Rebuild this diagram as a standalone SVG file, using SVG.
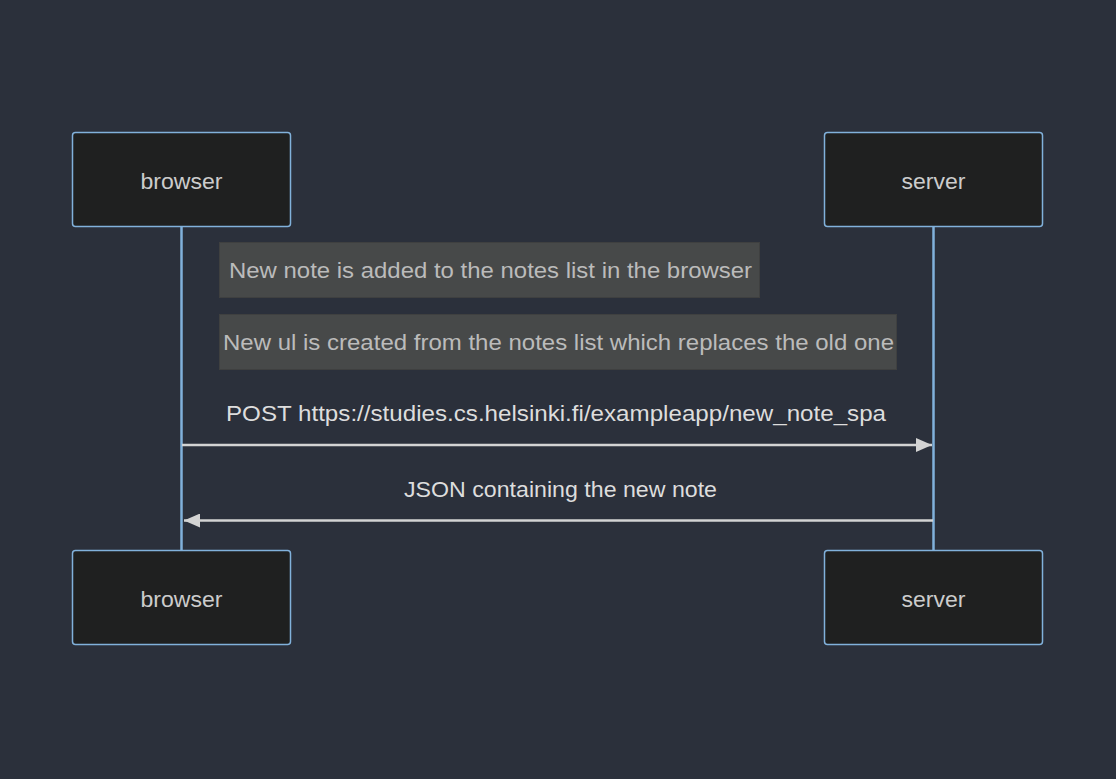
<svg xmlns="http://www.w3.org/2000/svg" width="1116" height="779" viewBox="0 0 1116 779">
<style>
.actor rect{fill:#1f2020;stroke:#81b1db;stroke-width:1.5}
.actor text{fill:#cccccc;font-family:"Liberation Sans",Arial,sans-serif;font-size:22px;text-anchor:middle}
.lifeline{stroke:#81b1db;stroke-width:2.5}
.note rect{fill:#474949;stroke:#3f4040;stroke-width:1}
.note text{fill:#bbbbbb;font-family:"Liberation Sans",Arial,sans-serif;font-size:22px;text-anchor:middle}
.msg{stroke:#d3d3d3;stroke-width:2.5;fill:none}
.msgtext{fill:#dddddd;font-family:"Liberation Sans",Arial,sans-serif;font-size:22px;text-anchor:middle}
</style>
<defs>
<marker id="arrow" markerWidth="16" markerHeight="14" refX="16" refY="7" orient="auto" markerUnits="userSpaceOnUse">
<path d="M0,0 L16,7 L0,14 Z" fill="#d3d3d3"/>
</marker>
</defs>
<rect width="1116" height="779" fill="#2b303b"/>
<g id="lifelines">
<line class="lifeline" x1="181.5" y1="227" x2="181.5" y2="550"/>
<line class="lifeline" x1="933.5" y1="227" x2="933.5" y2="550"/>
</g>
<g id="browser-top" class="actor">
<rect x="72.5" y="132.5" width="218" height="94" rx="3"/>
<text x="181.5" y="189" textLength="82" lengthAdjust="spacingAndGlyphs">browser</text>
</g>
<g id="server-top" class="actor">
<rect x="824.5" y="132.5" width="218" height="94" rx="3"/>
<text x="933.5" y="189" textLength="64" lengthAdjust="spacingAndGlyphs">server</text>
</g>
<g id="browser-bottom" class="actor">
<rect x="72.5" y="550.5" width="218" height="94" rx="3"/>
<text x="181.5" y="607" textLength="82" lengthAdjust="spacingAndGlyphs">browser</text>
</g>
<g id="server-bottom" class="actor">
<rect x="824.5" y="550.5" width="218" height="94" rx="3"/>
<text x="933.5" y="607" textLength="64" lengthAdjust="spacingAndGlyphs">server</text>
</g>
<g id="note1" class="note">
<rect x="219.5" y="242.5" width="540" height="55"/>
<text x="490.5" y="278" textLength="523" lengthAdjust="spacingAndGlyphs">New note is added to the notes list in the browser</text>
</g>
<g id="note2" class="note">
<rect x="219.5" y="314.5" width="677" height="55"/>
<text x="558.5" y="350" textLength="671" lengthAdjust="spacingAndGlyphs">New ul is created from the notes list which replaces the old one</text>
</g>
<g id="connectors">
<line class="msg" x1="182" y1="445" x2="932" y2="445" marker-end="url(#arrow)"/>
<text class="msgtext" x="556" y="421" textLength="660" lengthAdjust="spacingAndGlyphs">POST https://studies.cs.helsinki.fi/exampleapp/new_note_spa</text>
<line class="msg" x1="933" y1="520.5" x2="184" y2="520.5" marker-end="url(#arrow)"/>
<text class="msgtext" x="560.5" y="497" textLength="313" lengthAdjust="spacingAndGlyphs">JSON containing the new note</text>
</g>
</svg>
